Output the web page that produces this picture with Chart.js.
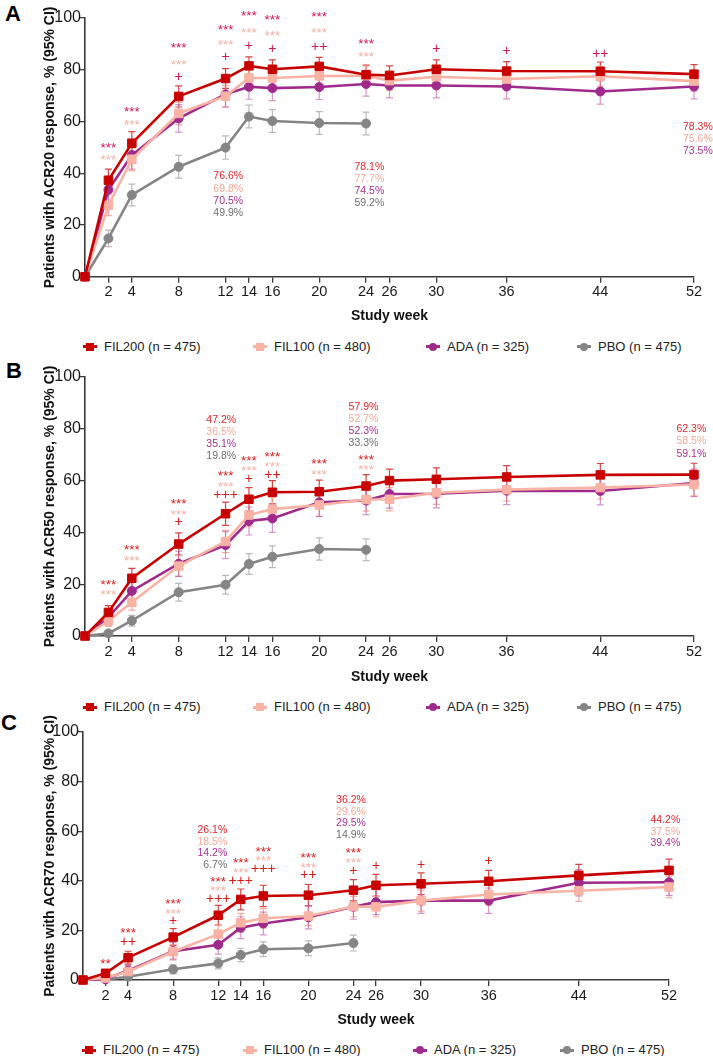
<!DOCTYPE html>
<html>
<head>
<meta charset="utf-8">
<script src="https://cdn.jsdelivr.net/npm/chart.js@4.4.0/dist/chart.umd.min.js"></script>
<style>
  body { margin:0; background:#fff; width:713px; height:1056px; position:relative; overflow:hidden;
         font-family:"Liberation Sans", Arial, sans-serif; }
  canvas { position:absolute; left:0; }
  .letter { position:absolute; font-weight:bold; font-size:22px; line-height:22px; color:#000; }
  .legend { position:absolute; left:0; width:713px; height:0; }
  .mk { position:absolute; width:14px; height:3px; top:-1.5px; }
  .mk i { position:absolute; left:3px; top:-2.5px; width:8px; height:8px; }
  .mk i.dot { border-radius:50%; }
  .lt { position:absolute; top:-8px; line-height:16px; font-size:13px; white-space:nowrap; color:#222; }
</style>
</head>
<body>
<div class="letter" style="left:5px;top:3px">A</div>
<div class="letter" style="left:6px;top:360px">B</div>
<div class="letter" style="left:1px;top:712px">C</div>
<canvas id="chartA" width="713" height="330" style="top:0px"></canvas>
<canvas id="chartB" width="713" height="330" style="top:360px"></canvas>
<canvas id="chartC" width="713" height="320" style="top:715px"></canvas>
<script>
// study weeks
var weeks = [0, 2, 4, 8, 12, 14, 16, 20, 24, 26, 30, 36, 44, 52];
var tickWeeks = [2, 4, 8, 12, 14, 16, 20, 24, 26, 30, 36, 44, 52];
var series = ['FIL200 (n = 475)', 'FIL100 (n = 480)', 'ADA (n = 325)', 'PBO (n = 475)'];

// ACR20
var fil200A = [0, 37.3, 51.6, 69.7, 76.6, 81.5, 80.2, 81.3, 78.1, 77.8, 80.2, 79.5, 79.4, 78.3];
var fil100A = [0, 27.6, 45.4, 63.1, 69.8, 76.8, 76.8, 77.6, 77.7, 75.8, 77.3, 76.4, 77.5, 75.6];
var adaA    = [0, 33.6, 47.0, 61.2, 70.5, 73.4, 72.9, 73.3, 74.5, 73.9, 73.9, 73.5, 71.6, 73.5];
var pboA    = [0, 14.8, 31.6, 42.5, 49.9, 61.9, 60.2, 59.4, 59.2];
var fil200A_ci = [0, 4.3, 4.5, 4.1, 3.8, 3.5, 3.6, 3.5, 3.7, 3.7, 3.6, 3.6, 3.6, 3.7];
var fil100A_ci = [0, 4.0, 4.4, 4.3, 4.1, 3.8, 3.8, 3.7, 3.7, 3.8, 3.8, 3.8, 3.8, 3.8];
var adaA_ci    = [0, 5.1, 5.4, 5.3, 5.0, 4.8, 4.8, 4.8, 4.7, 4.8, 4.8, 4.8, 4.9, 4.8];
var pboA_ci    = [0, 3.2, 4.2, 4.4, 4.5, 4.4, 4.4, 4.4, 4.4];

// ACR50
var fil200B = [0, 9.1, 22.3, 35.5, 47.2, 52.8, 55.5, 55.7, 57.9, 60.0, 60.5, 61.4, 62.2, 62.3];
var fil100B = [0, 5.8, 13.0, 27.0, 36.5, 46.7, 49.0, 50.6, 52.7, 52.8, 55.3, 56.5, 57.3, 58.5];
var adaB    = [0, 7.2, 17.4, 27.9, 35.1, 44.4, 45.4, 51.6, 52.3, 54.8, 54.9, 56.1, 56.0, 59.1];
var pboB    = [0, 1.0, 5.9, 16.9, 19.8, 27.8, 30.6, 33.6, 33.3];
var fil200B_ci = [0, 2.6, 3.8, 4.3, 4.5, 4.5, 4.5, 4.5, 4.4, 4.4, 4.4, 4.4, 4.4, 4.4];
var fil100B_ci = [0, 2.1, 3.0, 4.0, 4.3, 4.5, 4.5, 4.5, 4.5, 4.5, 4.5, 4.4, 4.4, 4.4];
var adaB_ci    = [0, 2.8, 4.1, 4.9, 5.2, 5.4, 5.4, 5.4, 5.4, 5.4, 5.4, 5.4, 5.4, 5.3];
var pboB_ci    = [0, 0.9, 2.1, 3.4, 3.6, 4.0, 4.2, 4.3, 4.2];

// ACR70
var fil200C = [0, 2.7, 9.0, 17.3, 26.1, 32.5, 33.9, 34.2, 36.2, 38.2, 38.8, 39.8, 42.2, 44.2];
var fil100C = [0, 0.8, 3.4, 11.4, 18.5, 23.1, 24.9, 25.8, 29.6, 29.5, 32.0, 34.5, 36.0, 37.5];
var adaC    = [0, 0.4, 3.8, 11.6, 14.2, 21.1, 22.8, 25.3, 29.5, 31.4, 32.0, 32.0, 39.2, 39.4];
var pboC    = [0, 0.2, 1.3, 4.3, 6.7, 10.1, 12.4, 12.8, 14.9];
var fil200C_ci = [0, 1.5, 2.6, 3.4, 4.0, 4.2, 4.3, 4.3, 4.3, 4.4, 4.4, 4.4, 4.4, 4.5];
var fil100C_ci = [0, 0.8, 1.6, 2.9, 3.5, 3.8, 3.9, 3.9, 4.1, 4.1, 4.2, 4.3, 4.3, 4.4];
var adaC_ci    = [0, 0.7, 2.1, 3.5, 3.8, 4.4, 4.6, 4.7, 5.0, 5.0, 5.1, 5.1, 5.3, 5.3];
var pboC_ci    = [0, 0.4, 1.0, 1.8, 2.2, 2.7, 3.0, 3.0, 3.2];

// significance marks: [week, y, text, r=red / p=pink]
var sigA = [[2,50.9,'***','r'],[2,46.3,'***','p'],[4,64.8,'***','r'],[4,59.5,'***','p'],
  [8,89.6,'***','r'],[8,82.9,'***','p'],[8,77.3,'+','r'],
  [12,96.6,'***','r'],[12,90.6,'***','p'],[12,85.0,'+','r'],
  [14,101.8,'***','r'],[14,95.1,'***','p'],[14,89.3,'+','r'],
  [16,100.3,'***','r'],[16,94.1,'***','p'],[16,87.9,'+','r'],
  [20,101.4,'***','r'],[20,95.1,'***','p'],[20,88.7,'++','r'],
  [24,91.1,'***','r'],[24,86.0,'***','p'],[30,88.0,'+','r'],[36,87.0,'+','r'],[44,86.0,'++','r']];
var sigB = [[2,20.6,'***','r'],[2,16.9,'***','p'],[4,34.2,'***','r'],[4,30.2,'***','p'],
  [8,51.9,'***','r'],[8,47.8,'***','p'],[8,43.8,'+','r'],
  [12,62.8,'***','r'],[12,58.7,'***','p'],[12,54.4,'+++','r'],
  [14,68.6,'***','r'],[14,64.7,'***','p'],[14,60.5,'+','r'],
  [16,70.3,'***','r'],[16,66.4,'***','p'],[16,62.2,'++','r'],
  [20,67.3,'***','r'],[20,63.3,'***','p'],[24,69.0,'***','r'],[24,65.1,'***','p']];
var sigC = [[2,7.7,'**','r'],[4,19.9,'***','r'],[4,15.4,'++','r'],
  [8,31.9,'***','r'],[8,27.9,'***','p'],[8,23.9,'+','r'],
  [12,40.7,'***','r'],[12,37.0,'***','p'],[12,32.7,'+++','r'],
  [14,48.1,'***','r'],[14,44.4,'***','p'],[14,40.0,'+++','r'],
  [16,52.9,'***','r'],[16,49.1,'***','p'],[16,44.8,'+++','r'],
  [20,50.3,'***','r'],[20,46.2,'***','p'],[20,42.1,'++','r'],
  [24,52.4,'***','r'],[24,48.1,'***','p'],[24,43.7,'+','r'],
  [26,46.0,'+','r'],[30,46.4,'+','r'],[36,48.1,'+','r']];

// percent blocks: value at week wk, anchored (right edge) at x / y in axis units
var blocksA = [{wk:12, x:13.5, y:38.7, rows:[0,1,2,3]}, {wk:24, x:25.55, y:42.5, rows:[0,1,2,3]}, {wk:52, x:53.6, y:58.0, rows:[0,1,2]}];
var blocksB = [{wk:12, x:12.9, y:83.4, rows:[0,1,2,3]}, {wk:24, x:25.05, y:88.5, rows:[0,1,2,3]}, {wk:52, x:53.05, y:79.8, rows:[0,1,2]}];
var blocksC = [{wk:12, x:12.8, y:60.5, rows:[0,1,2,3]}, {wk:24, x:25.1, y:72.6, rows:[0,1,2,3]}, {wk:52, x:53.0, y:64.5, rows:[0,1,2]}];

var lineColors = ['#c80000', '#f8b3a5', '#a02a8b', '#858585'];
var errColors = ['rgba(205,20,20,0.8)', 'rgba(246,165,150,0.9)', 'rgba(180,80,160,0.6)', 'rgba(140,140,140,0.6)'];
var textColors = ['#e2262c', '#f6a999', '#a5318f', '#6e6e6e'];
var pinkSig = '#f6b0a4';
var FONT = '"Liberation Sans", Arial, sans-serif';

Chart.defaults.font.family = FONT;

var errorBars = {
  id: 'errorBars',
  beforeDatasetsDraw: function(chart) {
    var ctx = chart.ctx, xs = chart.scales.x, ys = chart.scales.y;
    chart.data.datasets.forEach(function(ds) {
      ctx.save();
      ctx.strokeStyle = ds.errColor;
      ctx.lineWidth = 1.2;
      ds.data.forEach(function(p, j) {
        var e = ds.err[j];
        if (!e) return;
        var x = xs.getPixelForValue(p.x);
        var y1 = ys.getPixelForValue(p.y - e), y2 = ys.getPixelForValue(p.y + e);
        ctx.beginPath();
        ctx.moveTo(x, y1); ctx.lineTo(x, y2);
        ctx.moveTo(x - 3.5, y1); ctx.lineTo(x + 3.5, y1);
        ctx.moveTo(x - 3.5, y2); ctx.lineTo(x + 3.5, y2);
        ctx.stroke();
      });
      ctx.restore();
    });
  }
};

function notes(sig, blocks, vals, sigRed, gap) {
  return {
    id: 'notes',
    afterDatasetsDraw: function(chart) {
      var ctx = chart.ctx, xs = chart.scales.x, ys = chart.scales.y;
      ctx.save();
      ctx.textBaseline = 'middle';
      ctx.textAlign = 'center';
      sig.forEach(function(s) {
        var star = s[2].charAt(0) === '*';
        ctx.font = (star ? '13.5px ' : '14px ') + FONT;
        ctx.fillStyle = s[3] === 'p' ? pinkSig : sigRed;
        ctx.fillText(s[2], xs.getPixelForValue(s[0]), ys.getPixelForValue(s[1]) + (star ? 3 : 0));
      });
      ctx.font = '10.5px ' + FONT;
      ctx.textAlign = 'right';
      blocks.forEach(function(b) {
        var i = weeks.indexOf(b.wk);
        var x = xs.getPixelForValue(b.x), y = ys.getPixelForValue(b.y);
        b.rows.forEach(function(s, k) {
          ctx.fillStyle = textColors[s];
          ctx.fillText(vals[s][i].toFixed(1) + '%', x, y + k * gap);
        });
      });
      ctx.restore();
    }
  };
}

function makeChart(id, vals, cis, yTitle, sig, blocks, L) {
  var datasets = vals.map(function(v, s) {
    return {
      label: series[s],
      data: v.map(function(y, j) { return {x: weeks[j], y: y}; }),
      err: cis[s],
      errColor: errColors[s],
      borderColor: lineColors[s],
      backgroundColor: lineColors[s],
      borderWidth: 2.6,
      tension: 0,
      clip: false,
      pointStyle: s < 2 ? 'rect' : 'circle',
      pointRadius: s < 2 ? 6 : 4.5,
      pointBorderWidth: 1
    };
  });
  var axisColor = '#3a3a3a';
  return new Chart(document.getElementById(id), {
    type: 'line',
    data: { datasets: datasets },
    plugins: [errorBars, notes(sig, blocks, vals, L.sigRed, L.gap)],
    options: {
      responsive: false,
      animation: false,
      devicePixelRatio: 1,
      layout: { padding: { top: L.top, right: L.right, left: 0, bottom: 0 } },
      plugins: { legend: { display: false }, tooltip: { enabled: false } },
      scales: {
        x: {
          type: 'linear', min: 0, max: 52,
          afterBuildTicks: function(sc) { sc.ticks = tickWeeks.map(function(v) { return {value: v}; }); },
          afterFit: function(sc) { sc.height = L.xh; },
          ticks: { autoSkip: false, maxRotation: 0, color: '#1a1a1a', font: { size: 14.5 }, padding: 1 },
          grid: { drawOnChartArea: false, drawTicks: true, tickLength: 6, color: axisColor, lineWidth: 1.3 },
          border: { display: true, color: axisColor, width: 1.6 },
          title: { display: true, text: 'Study week', color: '#111', font: { size: 14, weight: 'bold' },
                   padding: { top: 0, bottom: L.xtp } }
        },
        y: {
          min: 0, max: 100,
          afterFit: function(sc) { sc.width = L.yw; },
          ticks: { stepSize: 20, color: '#1a1a1a', font: { size: 16 }, padding: -2 },
          grid: { drawOnChartArea: false, drawTicks: true, tickLength: 6, color: axisColor, lineWidth: 1.3 },
          border: { display: true, color: axisColor, width: 1.6 },
          title: { display: true, text: yTitle, color: '#111', font: { size: 14, weight: 'bold' },
                   padding: { top: 42, bottom: 0 } }
        }
      }
    }
  });
}

function legend(top, xs) {
  var d = document.createElement('div');
  d.className = 'legend';
  d.style.top = top + 'px';
  series.forEach(function(name, s) {
    var mk = document.createElement('span');
    mk.className = 'mk';
    mk.style.left = (xs[s] - 7) + 'px';
    mk.style.background = lineColors[s];
    var dot = document.createElement('i');
    if (s >= 2) dot.className = 'dot';
    dot.style.background = lineColors[s];
    mk.appendChild(dot);
    var t = document.createElement('span');
    t.className = 'lt';
    t.style.left = (xs[s] + 14) + 'px';
    t.textContent = name;
    d.appendChild(mk);
    d.appendChild(t);
  });
  document.body.appendChild(d);
}

makeChart('chartA', [fil200A, fil100A, adaA, pboA], [fil200A_ci, fil100A_ci, adaA_ci, pboA_ci],
  'Patients with ACR20 response, % (95% CI)', sigA, blocksA,
  { top: 18, right: 19, yw: 85, xh: 53.3, xtp: 5.6, gap: 12.2, sigRed: '#cf1650' });
makeChart('chartB', [fil200B, fil100B, adaB, pboB], [fil200B_ci, fil100B_ci, adaB_ci, pboB_ci],
  'Patients with ACR50 response, % (95% CI)', sigB, blocksB,
  { top: 17, right: 19, yw: 85, xh: 54, xtp: 4.6, gap: 12.2, sigRed: '#d81c1c' });
makeChart('chartC', [fil200C, fil100C, adaC, pboC], [fil200C_ci, fil100C_ci, adaC_ci, pboC_ci],
  'Patients with ACR70 response, % (95% CI)', sigC, blocksC,
  { top: 17, right: 44, yw: 83, xh: 55, xtp: 6.6, gap: 11.7, sigRed: '#d81c1c' });

legend(346.5, [90, 260, 433, 584]);
legend(707, [90, 260, 433, 584]);
legend(1050, [89, 250, 420, 567]);
</script>
</body>
</html>
